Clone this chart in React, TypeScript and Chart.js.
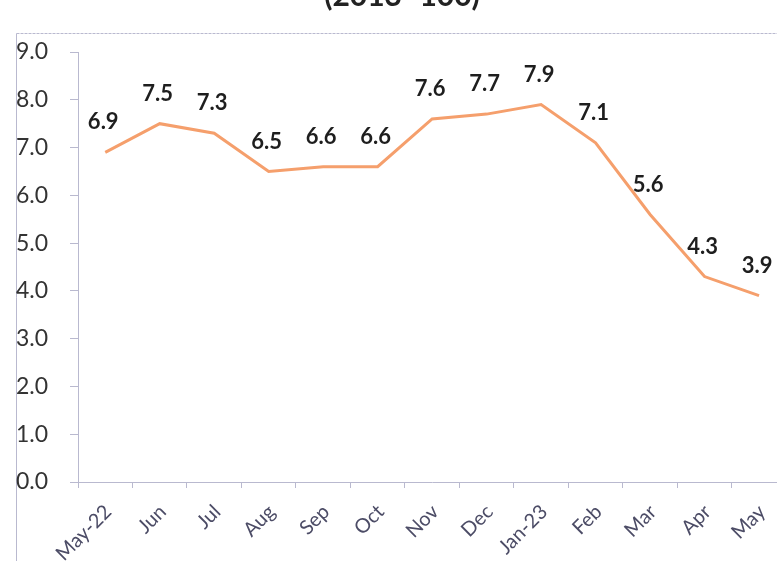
import React, { useEffect, useRef } from "react";
import { Chart, registerables } from "chart.js";

Chart.register(...registerables);

const categories = ["May-22", "Jun", "Jul", "Aug", "Sep", "Oct", "Nov", "Dec", "Jan-23", "Feb", "Mar", "Apr", "May"];
const values = [6.9, 7.5, 7.3, 6.5, 6.6, 6.6, 7.6, 7.7, 7.9, 7.1, 5.6, 4.3, 3.9];
const yTicks = [0, 1, 2, 3, 4, 5, 6, 7, 8, 9];
const titleText = "(2013=100)";

const FONT = "Lato, 'Open Sans', sans-serif";

const decorPlugin = {
  id: "decor",
  beforeDraw(chart: any) {
    const ctx = chart.ctx;
    ctx.save();
    ctx.fillStyle = "#ffffff";
    ctx.fillRect(0, 0, chart.width, chart.height);
    ctx.strokeStyle = "#b9b9cf";
    ctx.lineWidth = 1;
    ctx.setLineDash([3, 1]);
    ctx.beginPath();
    ctx.moveTo(16.5, 33.5);
    ctx.lineTo(chart.width, 33.5);
    ctx.stroke();
    ctx.setLineDash([]);
    ctx.beginPath();
    ctx.moveTo(16.5, 33.5);
    ctx.lineTo(16.5, chart.height);
    ctx.stroke();
    ctx.fillStyle = "#222";
    ctx.font = "bold 30px " + FONT;
    ctx.textAlign = "center";
    ctx.textBaseline = "alphabetic";
    ctx.fillText(titleText, 402, 6);
    ctx.restore();
  },
  afterDatasetsDraw(chart: any) {
    const ctx = chart.ctx;
    const meta = chart.getDatasetMeta(0);
    ctx.save();
    ctx.fillStyle = "#1e1e1e";
    ctx.font = "bold 22px " + FONT;
    ctx.textAlign = "center";
    ctx.textBaseline = "middle";
    meta.data.forEach((pt: any, i: number) => {
      ctx.fillText(values[i].toFixed(1), pt.x - 2, pt.y - 30);
    });
    ctx.restore();
  },
};

export default function App() {
  const ref = useRef<HTMLCanvasElement>(null);
  useEffect(() => {
    document.body.style.margin = "0";
    const chart = new Chart(ref.current!, {
      type: "line",
      data: {
        labels: categories,
        datasets: [
          {
            data: values,
            borderColor: "#f59f6c",
            borderWidth: 3,
            pointRadius: 0,
            tension: 0,
          },
        ],
      },
      options: {
        responsive: false,
        animation: false,
        layout: { padding: { left: 16, top: 52, right: 0, bottom: 0 } },
        plugins: { legend: { display: false }, tooltip: { enabled: false } },
        scales: {
          x: {
            offset: true,
            grid: { display: true, drawOnChartArea: false, tickLength: 6, color: "#b9b9cf", offset: true },
            border: { color: "#b9b9cf", width: 1 },
            ticks: {
              minRotation: 45,
              maxRotation: 45,
              color: "#4c4c66",
              font: { family: FONT, size: 20 },
              padding: 12,
              labelOffset: 3,
              autoSkip: false,
            },
            afterFit(scale: any) {
              scale.height = 79;
            },
          },
          y: {
            min: 0,
            max: 9,
            afterBuildTicks(scale: any) {
              scale.ticks = yTicks.map((v) => ({ value: v }));
            },
            grid: { display: true, drawOnChartArea: false, tickLength: 8, color: "#b9b9cf" },
            border: { color: "#b9b9cf", width: 1 },
            ticks: {
              crossAlign: "far",
              color: "#333",
              font: { family: FONT, size: 23 },
              callback: (v: any) => Number(v).toFixed(1),
            },
            afterFit(scale: any) {
              scale.width = 62;
            },
          },
        },
      },
      plugins: [decorPlugin],
    } as any);
    return () => chart.destroy();
  }, []);
  return (
    <div style={{ position: "relative", width: 777, height: 561, overflow: "hidden" }}>
      <canvas ref={ref} width={788} height={561} style={{ position: "absolute", left: 0, top: 0 }} />
    </div>
  );
}
